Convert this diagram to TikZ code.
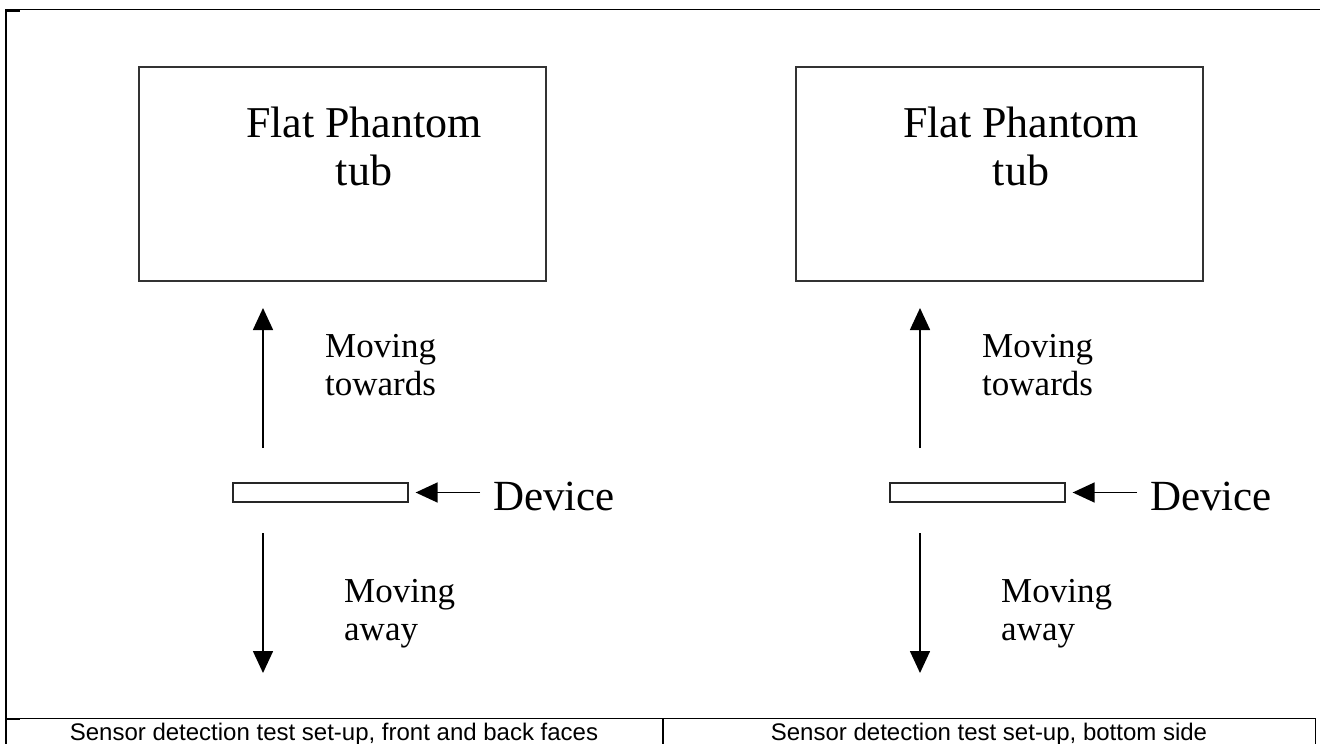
\documentclass[tikz,border=0pt]{standalone}
\usepackage{fontspec}
\setmainfont{Liberation Serif}
\newfontfamily\capfont{Liberation Sans}
\usetikzlibrary{arrows.meta}

\begin{document}
\begin{tikzpicture}[x=1pt,y=-1pt,
  tubbox/.style={draw=black!80,line width=1.3pt,minimum width=407pt,minimum height=214pt,inner sep=0pt},
  devbox/.style={draw=black!85,line width=1.3pt,minimum width=175pt,minimum height=19pt,inner sep=0pt},
  move/.style={line width=1.6pt,-{Triangle[length=22pt,width=20pt]}},
  lbl/.style={inner sep=0pt,align=left,anchor=base west}]
  \useasboundingbox (0,0) rectangle (1320,744);
  % frame of the table
  \draw[line width=1pt] (5,9.5) -- (1320,9.5);
  \draw[line width=2pt] (6,9) -- (6,744);
  \draw[line width=2pt] (5,10.5) -- (20,10.5);
  \draw[line width=1.2pt] (5,718.5) -- (1315.5,718.5) -- (1315.5,744);
  \draw[line width=2pt] (5,718.5) -- (20,718.5);
  \draw[line width=2pt] (663,718.5) -- (663,744);
  % the two set-ups
  \foreach \side/\dx in {L/0,R/657}{
    \node[tubbox] (tub\side) at (342.5+\dx,174) {};
    \node[inner sep=0pt,align=center,anchor=base,font=\fontsize{44}{48}\selectfont]
      (tubtext\side) at (364+\dx,185) {Flat Phantom\\tub};
    \node[devbox] (dev\side) at (320.5+\dx,492.5) {};
    \node[lbl,font=\fontsize{43}{48}\selectfont] (devtext\side) at (493+\dx,510) {Device};
    \draw[move,shorten <=13pt,shorten >=7pt] (devtext\side.west |- dev\side.east) -- (dev\side.east);
    \coordinate (upfoot\side) at (263+\dx,448);
    \coordinate (uptip\side) at (263+\dx,308);
    \coordinate (downfoot\side) at (263+\dx,533);
    \coordinate (downtip\side) at (263+\dx,673);
    \draw[move] (upfoot\side) -- (uptip\side);
    \draw[move] (downfoot\side) -- (downtip\side);
    \node[lbl,font=\fontsize{35}{38}\selectfont] (towards\side) at (325+\dx,395) {Moving\\towards};
    \node[lbl,font=\fontsize{35}{38}\selectfont] (away\side) at (344+\dx,640) {Moving\\away};
  }
  % captions
  \node[anchor=base,inner sep=0pt,font=\capfont\fontsize{24}{28}\selectfont] (capL) at (334,740)
    {Sensor detection test set-up, front and back faces};
  \node[anchor=base,inner sep=0pt,font=\capfont\fontsize{24}{28}\selectfont] (capR) at (989,740)
    {Sensor detection test set-up, bottom side};
\end{tikzpicture}
\end{document}
